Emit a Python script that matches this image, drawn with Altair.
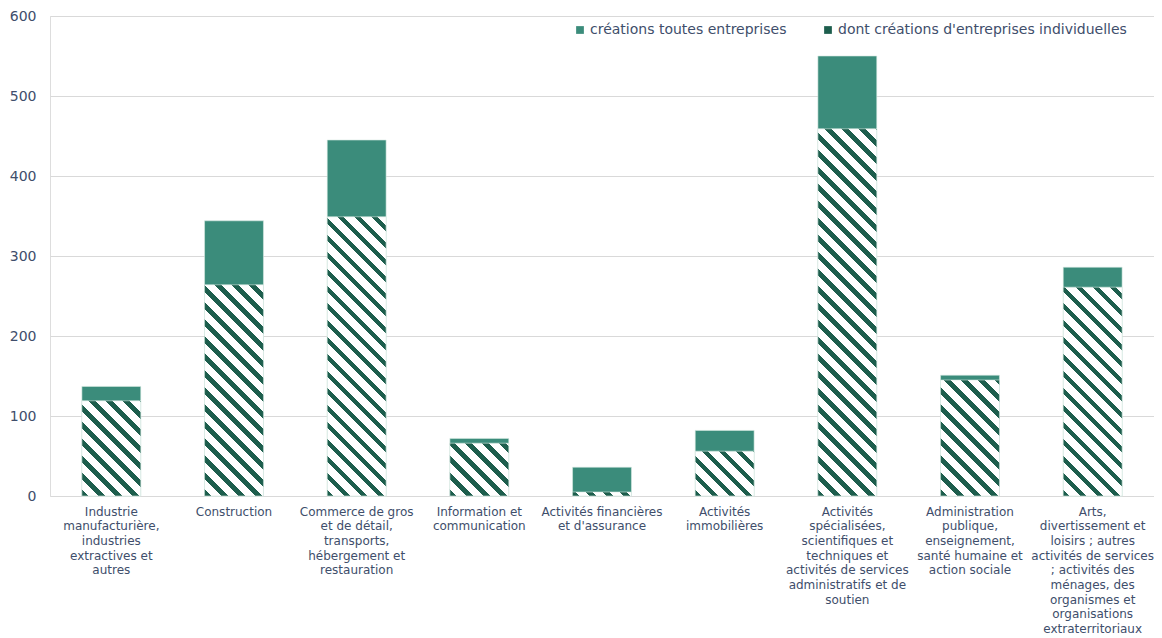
import altair as alt
import pandas as pd

label_lines = [
    ["Industrie", "manufacturière,", "industries", "extractives et", "autres"],
    ["Construction"],
    ["Commerce de gros", "et de détail,", "transports,", "hébergement et", "restauration"],
    ["Information et", "communication"],
    ["Activités financières", "et d'assurance"],
    ["Activités", "immobilières"],
    ["Activités", "spécialisées,", "scientifiques et", "techniques et",
     "activités de services", "administratifs et de", "soutien"],
    ["Administration", "publique,", "enseignement,", "santé humaine et", "action sociale"],
    ["Arts,", "divertissement et", "loisirs ; autres", "activités de services",
     "; activités des", "ménages, des", "organismes et", "organisations", "extraterritoriaux"],
]
totals = [137, 344, 445, 72, 36, 82, 550, 151, 286]
individual = [119, 264, 349, 66, 5, 56, 459, 145, 261]
series_names = ["créations toutes entreprises", "dont créations d'entreprises individuelles"]
y_ticks = [0, 100, 200, 300, 400, 500, 600]

categories = ["|".join(l) for l in label_lines]

TEAL = "#3b8c7b"
DARK = "#1d5e4d"
TEXT = "#404e6b"
FONT = "DejaVu Sans"

W, H, YMAX = 1104, 480, 600
PI, PO = 0.52, 0.26
step = W / (len(categories) - PI + 2 * PO)
bw = step * (1 - PI)
PERIOD = 17.0
DARKF = 0.38


def hatch(v):
    w = bw
    h = max(v * H / YMAX, 0.5)
    span = w + h
    c = span / (w * w + h * h)
    stops = []
    k = 0
    while k * PERIOD < span:
        a = k * PERIOD / span
        b = min((k + DARKF) * PERIOD / span, 1.0)
        e = min((k + 1) * PERIOD / span, 1.0)
        stops += [
            alt.GradientStop(offset=a, color=DARK),
            alt.GradientStop(offset=b, color=DARK),
            alt.GradientStop(offset=b, color="white"),
            alt.GradientStop(offset=e, color="white"),
        ]
        k += 1
    return alt.LinearGradient(gradient="linear", stops=stops,
                              x1=0, y1=1, x2=c * w, y2=1 - c * h)


df_tot = pd.DataFrame({"cat": categories, "v": totals, "series": series_names[0]})
df_ind = pd.DataFrame({"cat": categories, "v": individual})

x_enc = alt.X("cat:N", sort=categories, title=None,
              scale=alt.Scale(paddingInner=PI, paddingOuter=PO),
              axis=alt.Axis(labelAngle=0, ticks=False, domain=False,
                            labelExpr="split(datum.value, '|')",
                            labelFontSize=12, labelLineHeight=14.7,
                            labelColor=TEXT, labelFont=FONT, labelLimit=0,
                            labelPadding=10, labelBaseline="top"))
y_enc = alt.Y("v:Q", title=None, scale=alt.Scale(domain=[0, YMAX], nice=False),
              axis=alt.Axis(values=y_ticks, ticks=False, domain=False,
                            labelFontSize=14, labelColor=TEXT, labelFont=FONT,
                            labelPadding=14, gridColor="#d9d9d9"))

base_tot = alt.Chart(df_tot).mark_bar(stroke="#d6e9e3", strokeWidth=0.6).encode(
    x=x_enc, y=y_enc,
    color=alt.Color("series:N",
                    scale=alt.Scale(domain=series_names, range=[TEAL, DARK]),
                    legend=alt.Legend(title=None, orient="none", direction="horizontal",
                                      legendX=523, legendY=7, symbolType="square",
                                      symbolSize=60, symbolStrokeWidth=0,
                                      labelFontSize=14, labelColor=TEXT,
                                      labelFont=FONT, columnPadding=34, labelOffset=3,
                                      labelLimit=0)),
)

layers = [base_tot]
for c, v in zip(categories, individual):
    sub = df_ind[df_ind["cat"] == c]
    layers.append(
        alt.Chart(sub).mark_bar(color=hatch(v), stroke="#d6e9e3", strokeWidth=0.6).encode(
            x=x_enc, y=y_enc)
    )

chart = alt.layer(*layers).properties(
    width=W, height=H,
    autosize=alt.AutoSizeParams(type="none"),
    padding={"left": 42, "top": 8, "right": 0, "bottom": 142},
).configure_view(stroke=None).configure(background="white")

chart.save("out.html", embed_options={"renderer": "svg", "actions": False})
